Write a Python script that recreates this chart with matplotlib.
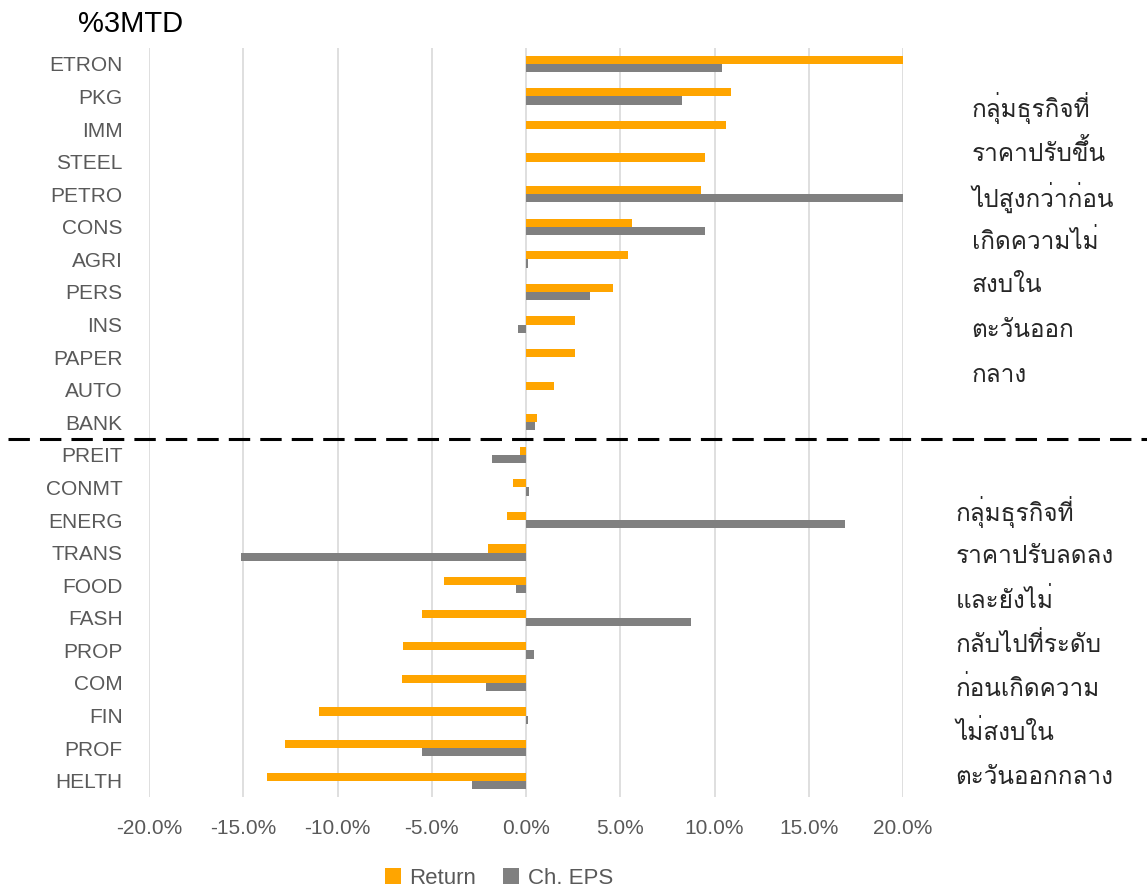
import matplotlib
matplotlib.use("Agg")
import matplotlib.pyplot as plt
import numpy as np
from matplotlib import font_manager
from matplotlib.ft2font import FT2Font
from matplotlib.transforms import blended_transform_factory

# Data
sectors = ["ETRON", "PKG", "IMM", "STEEL", "PETRO", "CONS", "AGRI", "PERS", "INS",
           "PAPER", "AUTO", "BANK", "PREIT", "CONMT", "ENERG", "TRANS", "FOOD",
           "FASH", "PROP", "COM", "FIN", "PROF", "HELTH"]
ret = [22.0, 10.9, 10.6, 9.5, 9.3, 5.6, 5.4, 4.6, 2.6, 2.6, 1.5, 0.6,
       -0.3, -0.7, -1.0, -2.0, -4.35, -5.5, -6.5, -6.6, -11.0, -12.8, -13.75]
eps = [10.4, 8.3, 0.0, 0.0, 24.0, 9.5, 0.1, 3.4, -0.4, 0.0, 0.0, 0.5,
       -1.8, 0.15, 16.9, -15.1, -0.55, 8.75, 0.45, -2.1, 0.1, -5.5, -2.85]
xticks = [-20, -15, -10, -5, 0, 5, 10, 15, 20]
note_up = ["กลุ่มธุรกิจที่", "ราคาปรับขึ้น", "ไปสูงกว่าก่อน", "เกิดความไม่",
           "สงบใน", "ตะวันออก", "กลาง"]
note_down = ["กลุ่มธุรกิจที่", "ราคาปรับลดลง", "และยังไม่", "กลับไปที่ระดับ",
             "ก่อนเกิดความ", "ไม่สงบใน", "ตะวันออกกลาง"]


def find_thai_font():
    for f in font_manager.fontManager.ttflist:
        try:
            if ord("ก") in FT2Font(f.fname).get_charmap():
                return f.name
        except Exception:
            pass
    return "DejaVu Sans"


thai = find_thai_font()
latin = "Liberation Sans"
plt.rcParams["font.family"] = [latin, thai, "DejaVu Sans"]

fig = plt.figure(figsize=(11.47, 8.89), dpi=100)
ax = fig.add_axes([0.1299, 0.1035, 0.6574, 0.843])

y = np.arange(len(sectors))
h = 0.25
ax.barh(y - h / 2, ret, height=h, color="#FFA500", label="Return")
ax.barh(y + h / 2, eps, height=h, color="#808080", label="Ch. EPS")

ax.set_xlim(-20, 20)
ax.set_ylim(len(sectors) - 0.5, -0.5)
ax.set_xticks(xticks)
ax.set_xticklabels([f"{v:.1f}%" for v in xticks])
ax.set_yticks(y)
ax.set_yticklabels(sectors)
ax.tick_params(length=0, labelsize=15, colors="#595959")
ax.tick_params(axis="x", pad=16)
ax.tick_params(axis="y", pad=19)
ax.grid(axis="x", color="#d9d9d9", linewidth=1.2)
ax.set_axisbelow(True)
for s in ax.spines.values():
    s.set_visible(False)

# dashed divider between gainers and losers
tr = blended_transform_factory(fig.transFigure, ax.transData)
ax.plot([0.007, 1.0], [11.5, 11.5], transform=tr, color="black", lw=2.2,
        ls=(0, (7, 3.3)), clip_on=False)

fig.text(0.068, 0.973, "%3MTD", fontsize=21, color="black", va="center")

for i, line in enumerate(note_up):
    fig.text(0.847, 1 - (108 + i * 44.5) / 889, line, fontsize=17.5,
             color="#262626", va="center", family=[thai, "DejaVu Sans"])
for i, line in enumerate(note_down):
    fig.text(0.833, 1 - (512 + i * 44.2) / 889, line, fontsize=17.5,
             color="#262626", va="center", family=[thai, "DejaVu Sans"])

fig.legend(loc="center", bbox_to_anchor=(0.435, 0.012), ncol=2, frameon=False,
           fontsize=16, labelcolor="#595959", handlelength=0.7, handleheight=0.7,
           handletextpad=0.4, columnspacing=1.2)

plt.savefig("out.png", dpi=100)
